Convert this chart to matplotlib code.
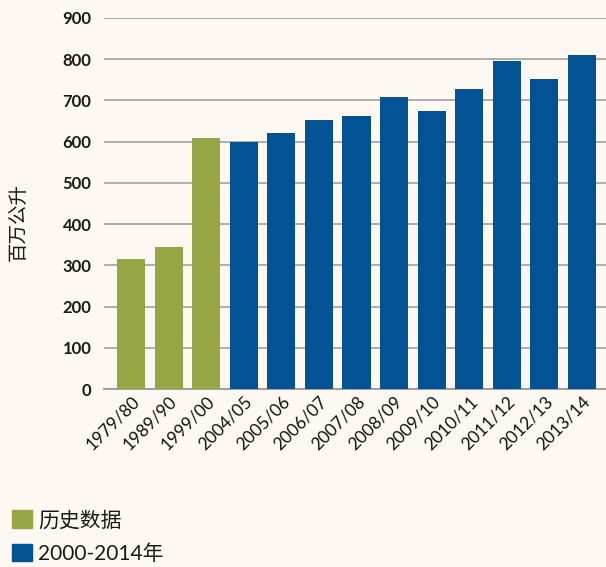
import matplotlib
matplotlib.use('Agg')
import matplotlib.pyplot as plt
from matplotlib.patches import Patch

plt.rcParams['font.family'] = ['Lato', 'Noto Sans CJK SC', 'DejaVu Sans']

years = ['1979/80', '1989/90', '1999/00', '2004/05', '2005/06', '2006/07', '2007/08',
         '2008/09', '2009/10', '2010/11', '2011/12', '2012/13', '2013/14']
values = [315, 344, 610, 600, 621, 653, 662, 708, 674, 727, 795, 751, 811]
historic = [True, True, True, False, False, False, False, False, False, False, False, False, False]
labels = ['历史数据', '2000-2014年']
yticks = [0, 100, 200, 300, 400, 500, 600, 700, 800, 900]

bg = '#fdf9f2'
green = '#96a645'
blue = '#025294'

fig = plt.figure(figsize=(6.06, 5.67), dpi=100, facecolor=bg)
ax = fig.add_axes([104 / 606, 1 - 389 / 567, 1 - 104 / 606, (389 - 18) / 567])
ax.set_facecolor(bg)

colors = [green if h else blue for h in historic]
ax.bar(range(len(years)), values, width=0.75, color=colors, zorder=3)

ax.set_ylim(0, 900)
ax.set_xlim(-0.72, len(years) - 1 + 0.64)
ax.set_yticks(yticks)
ax.set_yticklabels([str(t) for t in yticks], fontsize=12, fontweight='bold', color='#1a1a1a')
ax.yaxis.grid(True, color='#a8a8a8', linewidth=1.3, zorder=0)
ax.tick_params(axis='y', length=0, pad=9)
ax.tick_params(axis='x', length=0, pad=3)

ax.set_xticks(range(len(years)))
ax.set_xticklabels(years, rotation=45, ha='right', rotation_mode='anchor',
                   fontsize=12.5, color='#111111')

for s in ['top', 'right', 'left']:
    ax.spines[s].set_visible(False)
ax.spines['bottom'].set_color('#999999')
ax.spines['bottom'].set_linewidth(1.3)

fig.text(18 / 606, 1 - 222 / 567, '百万公升', rotation=90, ha='center', va='center',
         fontsize=14, family=['Noto Sans CJK SC'], color='#1a1a1a')

handles = [Patch(color=green), Patch(color=blue)]
fig.legend(handles, labels, loc='lower left', bbox_to_anchor=(4 / 606, -5 / 567),
           frameon=False, handlelength=0.95, handleheight=0.95,
           handletextpad=0.3, labelspacing=0.62, borderaxespad=0, labelcolor='#1a1a1a',
           prop={'family': ['Lato', 'Noto Sans CJK SC'], 'size': 15})

fig.savefig('out.png', dpi=100, facecolor=bg)
